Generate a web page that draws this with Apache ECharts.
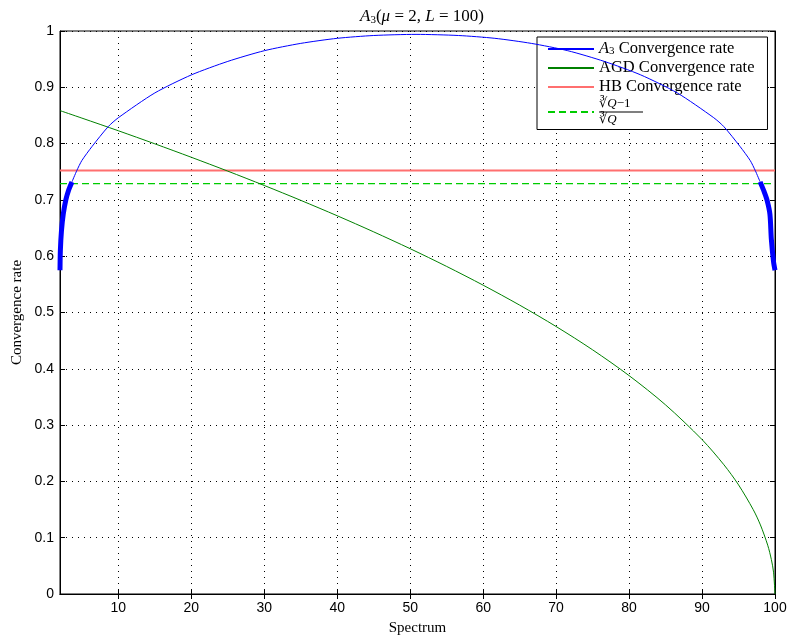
<!DOCTYPE html>
<html>
<head>
<meta charset="utf-8">
<script src="https://cdn.jsdelivr.net/npm/echarts@6/dist/echarts.min.js"></script>
<style>html,body{margin:0;padding:0;background:#fff}#c{width:791px;height:639px}</style>
</head>
<body>
<div id="c"></div>
<script>
// ---- data ----
const xTicks = [10, 20, 30, 40, 50, 60, 70, 80, 90, 100];

const a3Lambda = [3.64, 4.3, 5, 6.4, 8.6, 10, 15, 20, 25, 30, 35, 40, 45, 50.8, 56.6, 61.6, 66.6, 71.6, 76.6, 81.6, 86.6, 91.6, 93, 95.2, 96.6, 97.3, 97.96];
const a3Rate   = [0.732, 0.752, 0.77, 0.795, 0.83, 0.846, 0.89, 0.922, 0.946, 0.965, 0.978, 0.987, 0.992, 0.994, 0.992, 0.987, 0.978, 0.965, 0.946, 0.922, 0.89, 0.846, 0.83, 0.795, 0.77, 0.752, 0.732];

const a3BandLeftLambda  = [2, 2.05, 2.2, 2.45, 2.8, 3.2, 3.64];
const a3BandLeftRate    = [0.575, 0.61, 0.645, 0.675, 0.70, 0.718, 0.732];
const a3BandRightLambda = [97.96, 98.5, 98.9, 99.3, 99.5, 99.8, 100];
const a3BandRightRate   = [0.732, 0.715, 0.70, 0.675, 0.63, 0.59, 0.575];

const agdLambda = [2, 5, 10, 15, 20, 25, 30, 35, 40, 45, 50, 55, 60, 65, 70, 75, 80, 85, 90, 93, 95, 97, 98, 99, 99.5, 99.8, 100];
const agdRate   = [0.8586, 0.8453, 0.8228, 0.7996, 0.7757, 0.7511, 0.7256, 0.6992, 0.6718, 0.6432, 0.6133, 0.5818, 0.5485, 0.5131, 0.4751, 0.4337, 0.3879, 0.3359, 0.2743, 0.2295, 0.1939, 0.1502, 0.1227, 0.0867, 0.0613, 0.0388, 0];

const hbRate = 0.752;
const cubeRate = 0.729;
const spanLambda = [2, 100];

const names = ['A3 Convergence rate', 'AGD Convergence rate', 'HB Convergence rate', 'cube'];

function pairs(xs, ys) { return xs.map((x, i) => [x, ys[i]]); }

const serif = '"Liberation Serif", "DejaVu Serif", serif';
const sans = '"Liberation Sans", Arial, sans-serif';

const chart = echarts.init(document.getElementById('c'), null, {renderer: 'canvas'});
const option = {
  backgroundColor: '#fff',
  animation: false,
  title: {
    text: '{i|A}{s|3}{t|(}{i|μ}{t| = 2, }{i|L}{t| = 100)}',
    left: 417, top: 3, textAlign: 'center',
    textStyle: {
      fontWeight: 'normal',
      rich: {
        i: {fontFamily: serif, fontStyle: 'italic', fontWeight: 'normal', fontSize: 17, color: '#000'},
        s: {fontFamily: serif, fontWeight: 'normal', fontSize: 11, color: '#000', verticalAlign: 'bottom', padding: [7, 0, 0, 0]},
        t: {fontFamily: serif, fontWeight: 'normal', fontSize: 17, color: '#000'}
      }
    }
  },
  grid: {left: 60, right: 16, top: 31, bottom: 45, show: true, borderColor: '#000', borderWidth: 1, backgroundColor: '#fff',
         containLabel: false, outerBoundsMode: 'none'},
  legend: {
    data: names,
    orient: 'vertical',
    left: 537, top: 37,
    backgroundColor: '#fff',
    borderColor: '#000', borderWidth: 1, borderRadius: 0,
    padding: [2, 13, 3, 10],
    itemWidth: 46, itemHeight: 14, itemGap: 2,
    selectedMode: false,
    itemStyle: {opacity: 0, borderWidth: 0},
    formatter: function (name) {
      if (name === names[0]) return '{i|A}{s|3}{t| Convergence rate}';
      if (name === names[3]) return '{n|∛}{q|Q}{n|−1}\n{bar| }\n{n|∛}{q|Q}';
      return '{t|' + name + '}';
    },
    textStyle: {
      fontFamily: serif, fontSize: 16.5, color: '#000',
      rich: {
        i: {fontFamily: serif, fontStyle: 'italic', fontSize: 16.5, color: '#000', lineHeight: 16},
        s: {fontFamily: serif, fontSize: 11, color: '#000', verticalAlign: 'bottom', padding: [7, 0, 0, 0], lineHeight: 16},
        t: {fontFamily: serif, fontSize: 16.5, color: '#000', lineHeight: 16},
        n: {fontFamily: serif, fontSize: 13, color: '#000', lineHeight: 13},
        q: {fontFamily: serif, fontStyle: 'italic', fontSize: 13, color: '#000', lineHeight: 13},
        bar: {width: 44, height: 1, lineHeight: 3, fontSize: 1, backgroundColor: '#000'}
      }
    }
  },
  xAxis: [{
    type: 'value', min: 2, max: 100,
    name: 'Spectrum', nameLocation: 'middle', nameGap: 27,
    nameTextStyle: {fontFamily: serif, fontSize: 15, color: '#000'},
    axisLine: {show: true, lineStyle: {color: '#000'}},
    axisTick: {show: true, inside: true, length: 5, customValues: xTicks, lineStyle: {color: '#000'}},
    axisLabel: {customValues: xTicks, fontFamily: sans, fontSize: 14, color: '#000', margin: 7},
    splitLine: {show: true, customValues: xTicks, lineStyle: {color: '#000', type: [1, 5], width: 1}}
  }, {
    type: 'value', min: 2, max: 100, position: 'top',
    axisLine: {show: true, lineStyle: {color: '#000'}},
    axisTick: {show: true, inside: true, length: 5, customValues: xTicks, lineStyle: {color: '#000'}},
    axisLabel: {show: false},
    splitLine: {show: false}
  }],
  yAxis: [{
    type: 'value', min: 0, max: 1, interval: 0.1,
    name: 'Convergence rate', nameLocation: 'middle', nameGap: 35, nameMoveOverlap: false,
    nameTextStyle: {fontFamily: serif, fontSize: 15, color: '#000'},
    axisLine: {show: true, lineStyle: {color: '#000'}},
    axisTick: {show: true, inside: true, length: 5, lineStyle: {color: '#000'}},
    axisLabel: {fontFamily: sans, fontSize: 14, color: '#000', margin: 6,
      formatter: v => (Math.round(v * 10) / 10).toString()},
    splitLine: {show: true, lineStyle: {color: '#000', type: [1, 5], width: 1}}
  }, {
    type: 'value', min: 0, max: 1, interval: 0.1, position: 'right',
    axisLine: {show: true, lineStyle: {color: '#000'}},
    axisTick: {show: true, inside: true, length: 5, lineStyle: {color: '#000'}},
    axisLabel: {show: false},
    splitLine: {show: false}
  }],
  series: [
    {name: names[0], type: 'line', data: pairs(a3Lambda, a3Rate), smooth: 0.25, showSymbol: false, symbol: 'none',
     lineStyle: {color: '#0000ff', width: 1}, itemStyle: {color: '#0000ff'}, z: 5},
    {name: 'A3 band left', type: 'line', data: pairs(a3BandLeftLambda, a3BandLeftRate), smooth: 0.3, symbol: 'none',
     lineStyle: {color: '#0000ff', width: 5}, z: 5},
    {name: 'A3 band right', type: 'line', data: pairs(a3BandRightLambda, a3BandRightRate), smooth: 0.3, symbol: 'none',
     lineStyle: {color: '#0000ff', width: 5}, z: 5},
    {name: names[1], type: 'line', data: pairs(agdLambda, agdRate), smooth: 0.3, symbol: 'none',
     lineStyle: {color: '#008000', width: 1}, itemStyle: {color: '#008000'}, z: 4},
    {name: names[2], type: 'line', data: spanLambda.map(x => [x, hbRate]), symbol: 'none',
     lineStyle: {color: '#ff6f6f', width: 2}, itemStyle: {color: '#ff6f6f'}, z: 3},
    {name: names[3], type: 'line', data: spanLambda.map(x => [x, cubeRate]), symbol: 'none',
     lineStyle: {color: '#00cc00', width: 1.2, type: [7, 4]}, itemStyle: {color: '#00cc00'}, z: 3}
  ]
};
chart.setOption(option);
</script>
</body>
</html>
